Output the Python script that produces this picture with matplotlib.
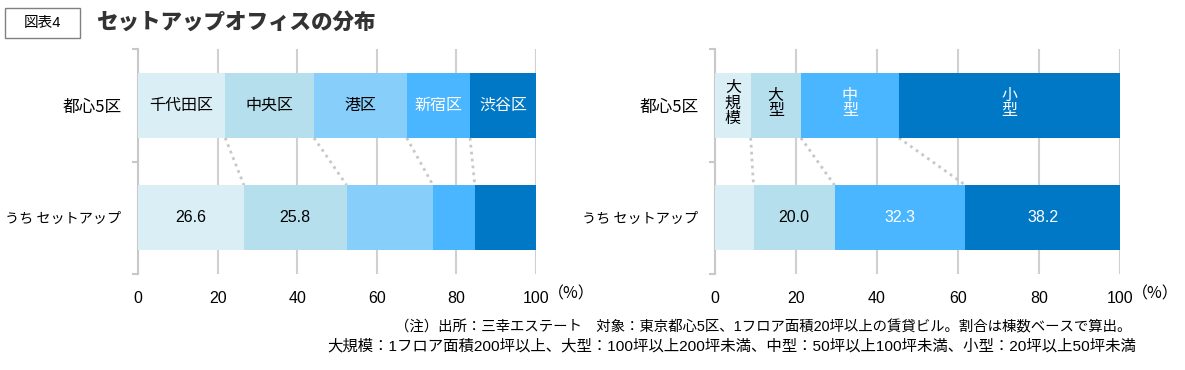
import numpy as np
import matplotlib
matplotlib.use('Agg')
import matplotlib.pyplot as plt
from matplotlib.patches import Rectangle

plt.rcParams['font.family'] = ['Noto Sans CJK JP', 'DejaVu Sans']
NUM = ['Liberation Sans', 'Noto Sans CJK JP']

rows = ['都心5区', 'うち セットアップ']

# left: by ward (%)
wards = ['千代田区', '中央区', '港区', '新宿区', '渋谷区']
ward_all = [21.9, 22.3, 23.3, 15.9, 16.6]
ward_setup = [26.6, 25.8, 21.7, 10.5, 15.4]
ward_labels_setup = ['26.6', '25.8', '', '', '']

# right: by size (%)
sizes = ['大\n規\n模', '大\n型', '中\n型', '小\n型']
size_all = [8.8, 12.4, 24.2, 54.6]
size_setup = [9.5, 20.0, 32.3, 38.2]
size_labels_setup = ['', '20.0', '32.3', '38.2']

ward_colors = ['#DAEEF6', '#B6DFEE', '#87CEFA', '#4AB6FF', '#0078C6']
ward_text = ['black', 'black', 'black', 'white', 'white']
size_colors = ['#DAEEF6', '#B6DFEE', '#4AB6FF', '#0078C6']
size_text = ['black', 'black', 'white', 'white']

fig = plt.figure(figsize=(11.85, 3.7), dpi=100)
ax1 = fig.add_axes([0.1165, 0.2595, 0.3359, 0.608])
ax2 = fig.add_axes([0.6034, 0.2595, 0.3418, 0.608])

H = 0.58


def draw(ax, names, top, bottom, bot_labels, colors, tcolors, vertical):
    ltop = np.concatenate([[0], np.cumsum(top)[:-1]])
    lbot = np.concatenate([[0], np.cumsum(bottom)[:-1]])
    ax.barh(0, top, left=ltop, height=H, color=colors, zorder=3)
    ax.barh(1, bottom, left=lbot, height=H, color=colors, zorder=3)
    for i in range(len(top)):
        x = ltop[i] + top[i] / 2
        if vertical:
            ax.text(x, -0.02, names[i], ha='center', va='center', fontsize=11.5,
                    color=tcolors[i], linespacing=0.92, zorder=4)
        else:
            ax.text(x, 0, names[i], ha='center', va='center', fontsize=11.5,
                    color=tcolors[i], zorder=4)
        if bot_labels[i]:
            ax.text(lbot[i] + bottom[i] / 2, 1, bot_labels[i], ha='center',
                    va='center', fontsize=11.5, color=tcolors[i], zorder=4,
                    family=NUM)
    # dotted connectors between segment boundaries
    for i in range(1, len(top)):
        ax.plot([ltop[i], lbot[i]], [H / 2, 1 - H / 2], color='#C8C8C8',
                linestyle=(0, (1, 1.5)), linewidth=2, zorder=2)
    ax.set_xlim(0, 100)
    ax.set_ylim(1.5, -0.5)
    ax.set_yticks([-0.5, 0.5, 1.5])
    ax.set_yticklabels([])
    ax.set_yticks([0, 1], minor=True)
    labels = ax.set_yticklabels(rows, minor=True)
    labels[0].set_fontsize(12)
    labels[1].set_fontsize(10.2)
    ax.tick_params(axis='y', which='minor', length=0, pad=12)
    ax.tick_params(axis='y', which='major', length=4, color='#C8C8C8', width=1.5)
    ax.set_xticks([0, 20, 40, 60, 80, 100])
    ax.set_xticklabels(['0', '20', '40', '60', '80', '100'], family=NUM,
                       fontsize=11.5)
    ax.tick_params(axis='x', length=0, pad=12)
    ax.grid(axis='x', color='#D0D0D0', linewidth=1.5, zorder=0)
    ax.set_axisbelow(True)
    for s in ['top', 'right', 'bottom']:
        ax.spines[s].set_visible(False)
    ax.spines['left'].set_color('#C8C8C8')
    ax.spines['left'].set_linewidth(1.5)
    ax.text(1.03, -0.088, '（%）', transform=ax.transAxes, ha='left',
            va='center', fontsize=11.5)


draw(ax1, wards, ward_all, ward_setup, ward_labels_setup, ward_colors,
     ward_text, False)
draw(ax2, sizes, size_all, size_setup, size_labels_setup, size_colors,
     size_text, True)

# header
fig.patches.append(Rectangle((5 / 1185, 1 - 38 / 370), 75 / 1185, 30 / 370,
                             transform=fig.transFigure, fill=False,
                             edgecolor='#808080', linewidth=1))
fig.text(42 / 1185, 1 - 23 / 370, '図表4', ha='center', va='center',
         fontsize=10.5, family=NUM)
fig.text(96 / 1185, 1 - 22 / 370, 'セットアップオフィスの分布', ha='left',
         va='center', fontsize=15.5, fontweight='heavy', color='#333333')

# notes
fig.text(1131 / 1185, 1 - 327 / 370,
         '（注）出所：三幸エステート　対象：東京都心5区、1フロア面積20坪以上の賃貸ビル。割合は棟数ベースで算出。',
         ha='right', va='center', fontsize=10.4, family=NUM)
fig.text(1136 / 1185, 1 - 346 / 370,
         '大規模：1フロア面積200坪以上、大型：100坪以上200坪未満、中型：50坪以上100坪未満、小型：20坪以上50坪未満',
         ha='right', va='center', fontsize=11.1, family=NUM)

fig.savefig('out.png', dpi=100)
